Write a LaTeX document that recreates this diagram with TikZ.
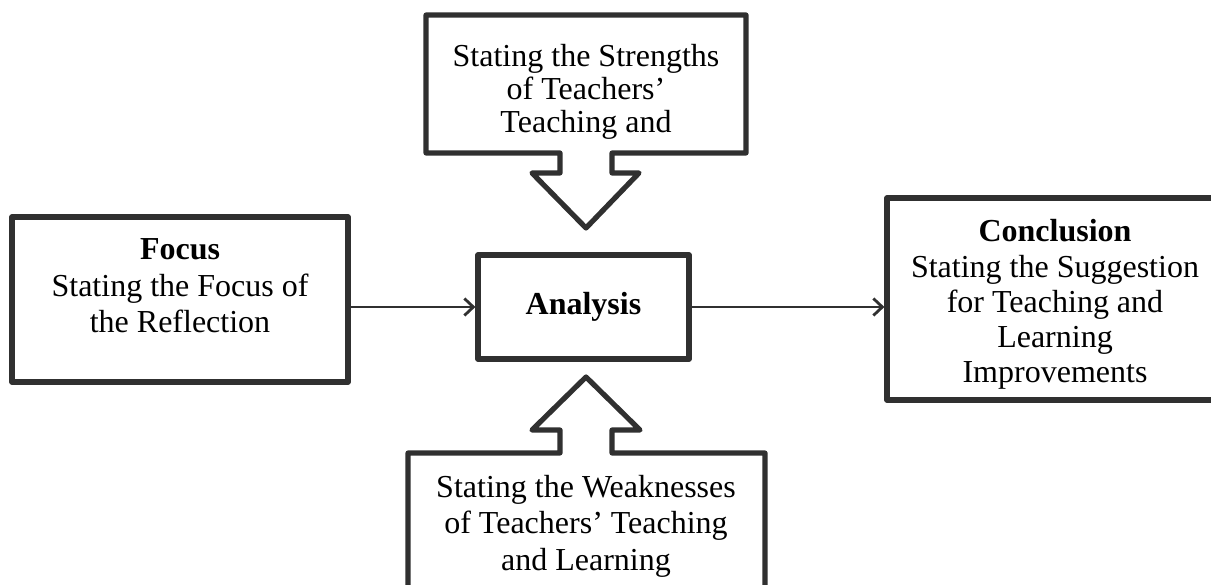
\documentclass[tikz,border=0pt]{standalone}
\usepackage{fontspec}
\setmainfont{Liberation Serif}
\usetikzlibrary{arrows.meta}
\definecolor{edge}{HTML}{303030}
\begin{document}
\begin{tikzpicture}[x=1pt,y=-1pt,
  box/.style={draw=edge,line width=5.2pt,fill=white,inner sep=0pt,rectangle,line join=round},
  shapeline/.style={draw=edge,line width=5.2pt,fill=white,line join=round},
  txt/.style={inner sep=0pt,align=center},
  conn/.style={draw=edge,line width=2.8pt,-{Straight Barb[length=9pt,width=17pt,line width=2.8pt]}}
]
\useasboundingbox (0,0) rectangle (1211,585);
\clip (0,0) rectangle (1211,585);

% Focus box
\node[box,minimum width=336pt,minimum height=165pt] (focus) at (180,299.5) {};
\node[txt,anchor=base,font=\fontsize{32}{36.5}\selectfont] (focustxt) at (180,333)
  {\textbf{Focus}\\Stating the Focus of\\the Reflection};

% Analysis box
\node[box,minimum width=211pt,minimum height=104pt,font=\fontsize{32}{36}\selectfont\bfseries] (analysis) at (583.5,307) {Analysis};

% Conclusion box
\node[box,minimum width=336pt,minimum height=202pt] (conclusion) at (1055,299) {};
\begin{scope}
  \clip (887,198) rectangle (1230,389);
  \node[txt,anchor=base,font=\fontsize{32}{35.3}\selectfont] (conctxt) at (1055,383)
    {\textbf{Conclusion}\\Stating the Suggestion\\for Teaching and\\Learning\\Improvements};
\end{scope}

% Strengths callout (top)
\draw[shapeline] (426,15) -- (746,15) -- (746,153) -- (612,153) -- (612,173) -- (639,173)
  -- (586,228) -- (532,173) -- (560,173) -- (560,153) -- (426,153) -- cycle;
\node[txt,anchor=base,font=\fontsize{32}{33}\selectfont] (strengths) at (586,133)
  {Stating the Strengths\\of Teachers'\\Teaching and};

% Weaknesses callout (bottom)
\draw[shapeline] (408,600) -- (408,453) -- (560,453) -- (560,430) -- (532,430)
  -- (586,377) -- (640,430) -- (612,430) -- (612,453) -- (765,453) -- (765,600);
\node[txt,anchor=base,font=\fontsize{32}{36.5}\selectfont] (weaknesses) at (586,570)
  {Stating the Weaknesses\\of Teachers' Teaching\\and Learning};

% connectors
\draw[conn] (focus.east |- analysis.west) -- (analysis.west);
\draw[conn] (analysis.east) -- (analysis.east -| conclusion.west);
\end{tikzpicture}
\end{document}
